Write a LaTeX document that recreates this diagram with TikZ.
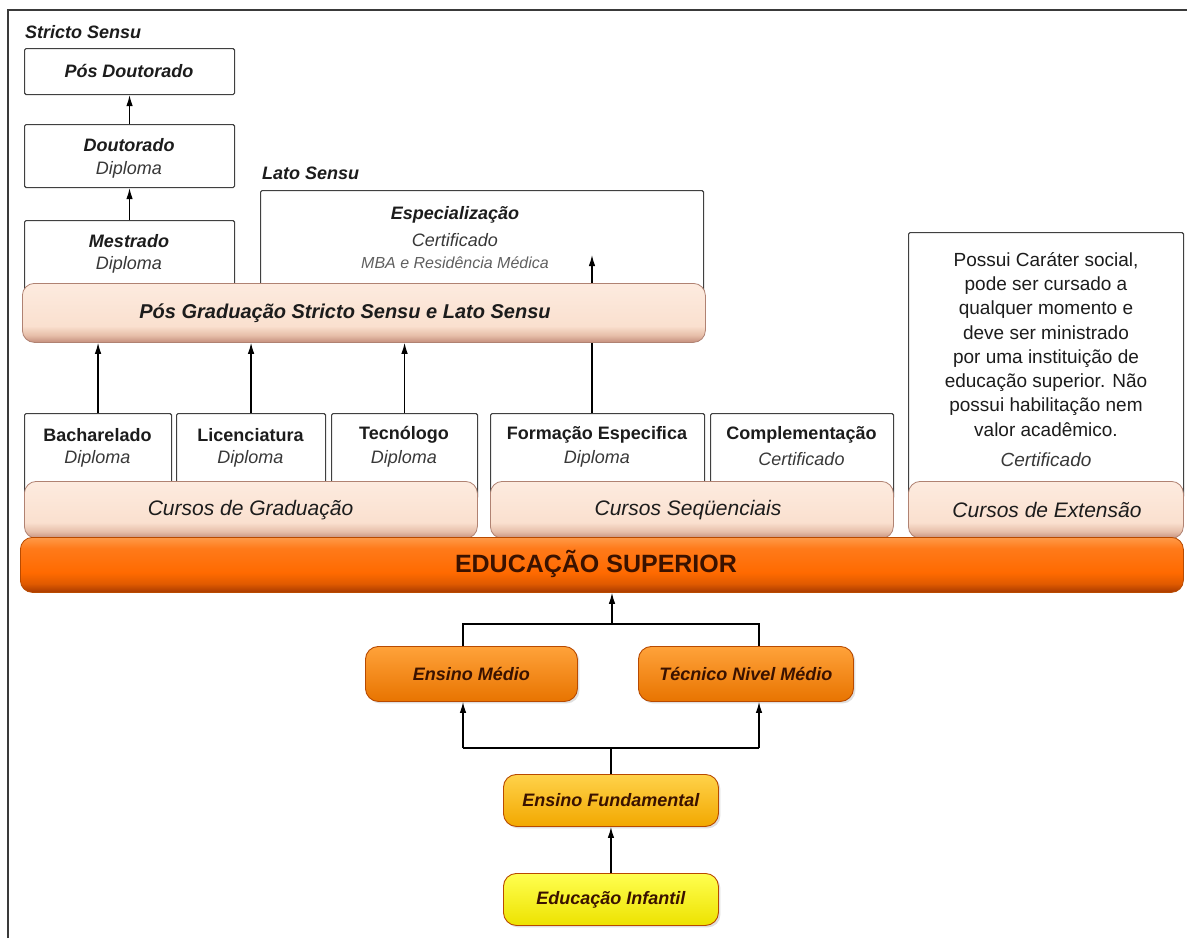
\documentclass[tikz,border=0pt]{standalone}
\usepackage{fontspec}
\setmainfont{Liberation Sans}
\usetikzlibrary{arrows.meta,shadows,calc}
\definecolor{framec}{HTML}{3A3A3A}
\definecolor{boxline}{HTML}{404040}
\definecolor{lbtop}{HTML}{FDEBDF}
\definecolor{lbmid}{HTML}{FAE0CF}
\definecolor{lbbottwo}{HTML}{E6BEA9}
\definecolor{lbbot}{HTML}{C48E7C}
\definecolor{lbline}{HTML}{B08272}
\definecolor{obtop}{HTML}{FF9A48}
\definecolor{obhi}{HTML}{FF7A1A}
\definecolor{obmid}{HTML}{FF6A00}
\definecolor{oblow}{HTML}{E05A00}
\definecolor{obbot}{HTML}{A83A00}
\definecolor{obline}{HTML}{B84A00}
\definecolor{medtop}{HTML}{FFA23A}
\definecolor{medbot}{HTML}{E87400}
\definecolor{fundtop}{HTML}{FFD24A}
\definecolor{fundbot}{HTML}{F2A800}
\definecolor{inftop}{HTML}{FFFF50}
\definecolor{infbot}{HTML}{EDE200}
\definecolor{darktxt}{HTML}{1C1C1C}
\definecolor{subtxt}{HTML}{383838}
\definecolor{browntxt}{HTML}{3A1200}
\pgfdeclareverticalshading{lbshade}{100bp}{color(0bp)=(lbbot); color(25bp)=(lbbot); color(31bp)=(lbbottwo); color(39bp)=(lbmid); color(75bp)=(lbtop); color(100bp)=(lbtop)}
\pgfdeclareverticalshading{obshade}{100bp}{color(0bp)=(obbot); color(25bp)=(obbot); color(33bp)=(oblow); color(43bp)=(obmid); color(65bp)=(obhi); color(75bp)=(obtop); color(100bp)=(obtop)}
\tikzset{
  box/.style={draw=boxline, line width=1.1pt, fill=white, anchor=north west, inner sep=0pt, rounded corners=1.5pt},
  lbar/.style={draw=lbline, line width=0.8pt, shading=lbshade, rounded corners=12pt, anchor=north west, inner sep=0pt},
  obar/.style={draw=obline, line width=0.8pt, shading=obshade, rounded corners=12pt, anchor=north west, inner sep=0pt},
  lvl/.style={draw=obline, line width=0.9pt, rounded corners=13pt, anchor=north west, inner sep=0pt,
     drop shadow={shadow xshift=2pt, shadow yshift=-2pt, opacity=0.25},
     font=\fontsize{18}{22}\selectfont\bfseries\itshape, text=browntxt},
  med/.style={lvl, top color=medtop, bottom color=medbot},
  fundst/.style={lvl, top color=fundtop, bottom color=fundbot},
  infst/.style={lvl, top color=inftop, bottom color=infbot},
  tt/.style={inner sep=0pt, text=darktxt, font=\fontsize{18}{22}\selectfont},
  ttbi/.style={tt, font=\fontsize{18}{22}\selectfont\bfseries\itshape},
  ttb/.style={tt, font=\fontsize{18}{22}\selectfont\bfseries},
  tti/.style={tt, text=subtxt, font=\fontsize{18}{22}\selectfont\itshape},
  ttbar/.style={tt, font=\fontsize{21}{25}\selectfont\itshape},
  conn/.style={draw=black, line width=1.2pt},
  arr/.style={conn, -{Latex[length=11pt,width=6.5pt]}}
}
\begin{document}
\begin{tikzpicture}[x=1pt,y=-1pt]
\useasboundingbox (0,0) rectangle (1187,938);
\fill[white] (0,0) rectangle (1187,938);
\draw[line width=1.5pt, framec] (8,938) -- (8,10) -- (1187,10);

% labels
\node[ttbi, anchor=west] (lstricto) at (25,32) {Stricto Sensu};
\node[ttbi, anchor=west] (llato) at (262,173) {Lato Sensu};

% stricto sensu boxes
\node[box, minimum width=210pt, minimum height=46pt] (posdout) at (24,48) {};
\node[box, minimum width=210pt, minimum height=63pt] (dout) at (24,124) {};
\node[box, minimum width=210pt, minimum height=80pt] (mest) at (24,220) {};
\draw[arr] (dout.north) -- (posdout.south);
\draw[arr] (mest.north) -- (dout.south);
\node[ttbi] (tposdout) at (129,71) {Pós Doutorado};
\node[ttbi] (tdout) at (129,145) {Doutorado};
\node[tti] (tdoutd) at (129,170) {Diploma};
\node[ttbi] (tmest) at (129,241) {Mestrado};
\node[tti] (tmestd) at (129,265) {Diploma};

% lato sensu box
\node[box, minimum width=443pt, minimum height=110pt] (esp) at (260,190) {};
\node[ttbi] (tesp) at (455,215) {Especialização};
\node[tti] (tespc) at (455,240) {Certificado};
\node[tti, font=\fontsize{16}{19}\selectfont\itshape, text=subtxt!80] (tespm) at (455,263) {MBA e Residência Médica};

% graduation / sequential boxes
\node[box, minimum width=147pt, minimum height=85pt] (bach) at (24,413) {};
\node[box, minimum width=149pt, minimum height=85pt] (licen) at (176,413) {};
\node[box, minimum width=146pt, minimum height=85pt] (tecn) at (331,413) {};
\node[box, minimum width=214pt, minimum height=85pt] (form) at (490,413) {};
\node[box, minimum width=183pt, minimum height=85pt] (compl) at (710,413) {};
\node[box, minimum width=275pt, minimum height=265pt] (ext) at (908,232) {};

\node[ttb] (tbach) at (97.5,435) {Bacharelado};
\node[tti] (tbachd) at (97.5,459) {Diploma};
\node[ttb] (tlicen) at (250.5,435) {Licenciatura};
\node[tti] (tlicend) at (250.5,459) {Diploma};
\node[ttb] (ttecn) at (404,435) {Tecnólogo};
\node[tti] (ttecnd) at (404,459) {Diploma};
\node[ttb] (tform) at (597,435) {Formação Especifica};
\node[tti] (tformd) at (597,459) {Diploma};
\node[ttb] (tcompl) at (801.5,435) {Complementação};
\node[tti] (tcompld) at (801.5,459) {Certificado};

\node[tt, align=center, anchor=north, font=\fontsize{19}{24.3}\selectfont] (text) at (1046,252)
  {Possui Caráter social,\\ pode ser cursado a\\ qualquer momento e\\ deve ser ministrado\\ por uma instituição de\\ educação superior. Não\\ possui habilitação nem\\ valor acadêmico.};
\node[tti, font=\fontsize{19}{23}\selectfont\itshape] (textc) at (1046,460) {Certificado};

% arrow up into lato sensu
\coordinate (formtop) at (592,413);
\coordinate (espin) at (592,255);
\draw[arr] (formtop) -- (espin);

% bars
\node[lbar, minimum width=683pt, minimum height=59pt] (posg) at (22,283) {};
\node[ttbi, font=\fontsize{20}{24}\selectfont\bfseries\itshape] (tposg) at (345,313) {Pós Graduação Stricto Sensu e Lato Sensu};
\draw[arr] (bach.north) -- (bach.north |- posg.south);
\draw[arr] (licen.north) -- (licen.north |- posg.south);
\draw[arr] (tecn.north) -- (tecn.north |- posg.south);

\node[lbar, minimum width=453pt, minimum height=57pt] (cgrad) at (24,481) {};
\node[lbar, minimum width=403pt, minimum height=57pt] (cseq) at (490,481) {};
\node[lbar, minimum width=275pt, minimum height=57pt] (cext) at (908,481) {};
\node[ttbar] (tcgrad) at (250.5,510) {Cursos de Graduação};
\node[ttbar] (tcseq) at (688,510) {Cursos Seqüenciais};
\node[ttbar] (tcext) at (1047,510) {Cursos de Extensão};

\node[obar, minimum width=1163pt, minimum height=55pt] (edsup) at (20,537) {};
\node[tt, text=browntxt, font=\fontsize{25}{29}\selectfont\bfseries] (tedsup) at (596,564) {EDUCAÇÃO SUPERIOR};

% basic education
\node[med, minimum width=212pt, minimum height=55pt] (medio) at (365,646) {Ensino Médio};
\node[med, minimum width=215pt, minimum height=55pt] (tecnico) at (638,646) {Técnico Nivel Médio};
\node[fundst, minimum width=215pt, minimum height=52pt] (fund) at (503,774) {Ensino Fundamental};
\node[infst, minimum width=215pt, minimum height=52pt] (infantil) at (503,873) {Educação Infantil};

\coordinate (jup) at (612,624);
\coordinate (jupL) at (463,624);
\coordinate (jupR) at (759,624);
\draw[conn] (jupL |- medio.north) -- (jupL) -- (jupR) -- (jupR |- tecnico.north);
\draw[arr] (jup) -- (jup |- edsup.south);

\coordinate (jloL) at (463,748);
\coordinate (jloR) at (759,748);
\draw[conn] (jloL) -- (jloR);
\draw[arr] (jloL) -- (jloL |- medio.south);
\draw[arr] (jloR) -- (jloR |- tecnico.south);
\draw[conn] (fund.north) -- (fund.north |- jloL);
\draw[arr] (infantil.north) -- (fund.south);
\end{tikzpicture}
\end{document}
